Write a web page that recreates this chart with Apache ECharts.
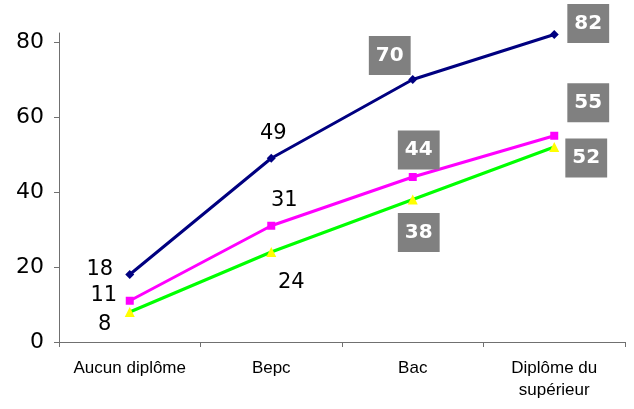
<!DOCTYPE html>
<html>
<head>
<meta charset="utf-8">
<script src="https://cdn.jsdelivr.net/npm/echarts@6/dist/echarts.min.js"></script>
<style>html,body{margin:0;padding:0;background:#fff}#c{width:634px;height:409px}</style>
</head>
<body>
<div id="c"></div>
<script>
var categories = ['Aucun diplôme', 'Bepc', 'Bac', 'Diplôme du\nsupérieur'];
var seriesA = [18, 49, 70, 82];
var seriesB = [11, 31, 44, 55];
var seriesC = [8, 24, 38, 52];
var yTicks = [0, 20, 40, 60, 80];

// label placement (offset from point centre) and whether boxed
var offA = [[-30,-5],[2,-25],[-23,-24],[34,-11]];
var offB = [[-26,-5],[13,-25],[6,-27],[34,-33]];
var offC = [[-25,13],[20,31],[6,33],[32,11]];
var boxA = [false,false,true,true];
var boxB = [false,false,true,true];
var boxC = [false,false,true,true];

function mkData(vals, offs, boxes) {
  return vals.map(function (v, i) {
    var lab = {
      show: true, position: 'inside', offset: offs[i],
      align: 'center', verticalAlign: 'middle',
      fontFamily: 'DejaVu Sans', fontSize: 21
    };
    if (boxes[i]) {
      lab.backgroundColor = '#808080';
      lab.color = '#ffffff';
      lab.fontWeight = 'bold';
      lab.fontSize = 20;
      lab.padding = [8, 7, 8, 7];
      lab.lineHeight = 23;
    } else {
      lab.color = '#000000';
    }
    return { value: v, label: lab };
  });
}

var chart = echarts.init(document.getElementById('c'));
chart.setOption({
  animation: false,
  backgroundColor: '#ffffff',
  grid: { left: 59, right: 9, top: 33, bottom: 67, containLabel: false },
  xAxis: {
    type: 'category',
    data: categories,
    boundaryGap: true,
    axisLine: { lineStyle: { color: '#707070', width: 1 } },
    axisTick: { show: true, length: 5, lineStyle: { color: '#707070' } },
    axisLabel: {
      color: '#000000', fontFamily: 'Liberation Sans', fontSize: 17,
      margin: 15, lineHeight: 22, interval: 0
    },
    splitLine: { show: false }
  },
  yAxis: {
    type: 'value',
    min: yTicks[0], max: 82.4, interval: 20,
    axisLine: { show: true, lineStyle: { color: '#707070', width: 1 } },
    axisTick: { show: true, length: 5, lineStyle: { color: '#707070' } },
    axisLabel: {
      color: '#000000', fontFamily: 'DejaVu Sans', fontSize: 22, margin: 15,
      showMaxLabel: false
    },
    splitLine: { show: false }
  },
  series: [
    {
      type: 'line', data: mkData(seriesA, offA, boxA),
      symbol: 'diamond', symbolSize: 9,
      lineStyle: { color: '#000080', width: 3 },
      itemStyle: { color: '#000080' }, z: 3
    },
    {
      type: 'line', data: mkData(seriesB, offB, boxB),
      symbol: 'rect', symbolSize: 8,
      lineStyle: { color: '#ff00ff', width: 3 },
      itemStyle: { color: '#ff00ff' }, z: 3
    },
    {
      type: 'line', data: mkData(seriesC, offC, boxC),
      symbol: 'triangle', symbolSize: 10,
      lineStyle: { color: '#00ff00', width: 3 },
      itemStyle: { color: '#ffff00' }, z: 3
    }
  ]
});
</script>
</body>
</html>
